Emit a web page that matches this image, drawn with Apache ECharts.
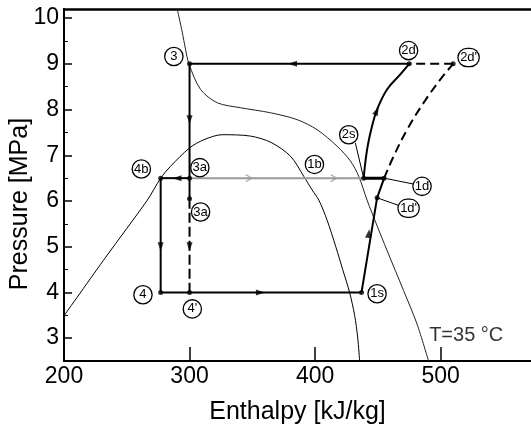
<!DOCTYPE html>
<html>
<head>
<meta charset="utf-8">
<script src="https://cdn.jsdelivr.net/npm/echarts@6/dist/echarts.min.js"></script>
<style>html,body{margin:0;padding:0;background:#fff}#c{width:531px;height:427px}</style>
</head>
<body>
<div id="c"></div>
<script>
// ---- tick labels ----
const xTickLabels = [200, 300, 400, 500];
const xTickMarks = [300, 400, 500];
const yTickLabels = [3, 4, 5, 6, 7, 8, 9, 10];
const yMinorTicks = [3.5, 4.5, 5.5, 6.5, 7.5, 8.5, 9.5];

// ---- saturation dome (enthalpy kJ/kg, pressure MPa) ----
const domeCurve = [[200,3.49],[233.2,4.77],[266.4,6.02],[277,6.5],[284.9,6.76],[300,7.16],[311.4,7.34],[326,7.45],[348.6,7.42],[365,7.28],[380.4,6.98],[391,6.54],[397.7,6.24],[403,6.02],[409.6,5.58],[416.5,5.0],[422,4.5],[427.5,4.0],[431.5,3.5],[434,3.0],[435.5,2.5]];
// ---- isotherm T = 35 °C ----
const isothermCurve = [[290.2,10.2],[294.2,9.69],[296.8,9.32],[299.5,9.0],[308.8,8.44],[322,8.15],[340.6,8.04],[364.5,7.93],[385.7,7.78],[401.6,7.56],[417.5,7.2],[428,6.88],[434.8,6.54],[441.4,6.02],[449.5,5.45],[457.3,4.92],[470.5,4.04],[481.2,3.31],[490.4,2.5]];

// ---- cycle segments ----
const seg2d3 = [[475,9],[300,9]];
const seg3to3a = [[300,9],[300,6.5]];
const seg3ato4b = [[300,6.5],[277,6.5]];
const seg4bto4 = [[277,6.5],[277,4]];
const seg4to1s = [[277,4],[437,4]];
const seg3atoPt = [[300,6.5],[300,6.05]];
const segPtto4p = [[300,6.05],[300,4]];
const seg1sto1d = [[437,4],[449.4,6.07],[455,6.5]];
const seg2sto1d = [[438.7,6.5],[455,6.5]];
const seg3ato2s = [[300,6.5],[438.7,6.5]];
const curve2sto2d = [[438.7,6.5],[441.4,7.12],[445.4,7.64],[449.4,8.0],[457.3,8.44],[467.9,8.77],[475,9.0]];
const curve1dto2dp = [[455,6.5],[462.6,6.98],[473.3,7.56],[486.5,8.15],[499.8,8.66],[510,9.0]];
const seg2dpto2d = [[510,9],[475,9]];

// ---- state points (dots) ----
const statePoints = [[300,9],[475,9],[510,9],[438.7,6.5],[455,6.5],[449.4,6.07],[437,4],[277,4],[300,4],[277,6.5],[300,6.5],[300,6.05]];

// ---- arrows: [h, p, rotation] ----
const blackArrows = [[382,9,90],[300,7.78,180],[290,6.5,90],[277,5.0,180],[300,5.0,180],[356.5,4,-90],[442.7,5.29,-9],[449.2,7.97,-24]];
const greyArrows = [[347.2,6.5],[414.8,6.5]];

// ---- leader lines ----
const lead2s = [[432.1,7.27],[438.7,6.5]];
const lead1d = [[455,6.5],[478.5,6.37]];
const lead1dp = [[449.4,6.07],[468,5.89]];

// ---- circled labels: [h, p, text] ----
const circleLabels = [[287.5,9.16,'3'],[261.6,6.70,'4b'],[308.2,6.73,'3a'],[308.8,5.76,'3a'],[262.9,3.95,'4'],[302.2,3.64,"4'"],[449.4,3.97,'1s'],[474.5,9.29,'2d'],[522.3,9.14,"2d'"],[426.8,7.45,'2s'],[399.5,6.80,'1b'],[485.2,6.32,'1d'],[474.5,5.84,"1d'"]];
const noteLabel = [520.4,3.05,'T=35 °C'];

const FONT = 'Liberation Sans, Arial, sans-serif';
const X_MIN = 200, X_MAX = 572, Y_MIN = 2.5, Y_MAX = 10.2;

function lineSeries(data, opts) {
  opts = opts || {};
  return {
    type: 'line', data: data, symbol: 'none', silent: true, animation: false,
    smooth: opts.smooth || false, z: opts.z || 3,
    lineStyle: { color: opts.color || '#000', width: opts.width || 2, type: opts.type || 'solid' }
  };
}

const chart = echarts.init(document.getElementById('c'), null, { renderer: 'canvas' });
const series = [
  lineSeries(domeCurve, { width: 1, smooth: 0.3, z: 2 }),
  lineSeries(isothermCurve, { width: 1, smooth: 0.3, z: 2, color: '#222' }),
  lineSeries(seg3ato2s, { width: 2, color: '#9a9a9a', z: 2 }),
  lineSeries(seg2d3),
  lineSeries(seg3to3a),
  lineSeries(seg3ato4b),
  lineSeries(seg4bto4),
  lineSeries(seg4to1s),
  lineSeries(seg3atoPt),
  lineSeries(segPtto4p, { type: [10, 4] }),
  lineSeries(seg1sto1d),
  lineSeries(seg2sto1d, { width: 3 }),
  lineSeries(curve2sto2d, { smooth: 0.4 }),
  lineSeries(curve1dto2dp, { smooth: 0.4, type: [9, 5] }),
  lineSeries(seg2dpto2d, { type: [9, 5] }),
  lineSeries(lead2s, { width: 1 }),
  lineSeries(lead1d, { width: 1 }),
  lineSeries(lead1dp, { width: 1 }),
  {
    type: 'scatter', data: statePoints, symbol: 'circle', symbolSize: 5, z: 5,
    itemStyle: { color: '#000' }, silent: true, animation: false
  },
  {
    type: 'scatter', z: 6, silent: true, animation: false,
    data: blackArrows.map(a => ({ value: [a[0], a[1]], symbolRotate: a[2] })),
    symbol: 'triangle', symbolSize: [6, 9], itemStyle: { color: '#000' }
  },
  {
    type: 'scatter', z: 6, silent: true, animation: false,
    data: greyArrows.map(a => ({ value: [a[0], a[1]] })),
    symbol: 'path://M0,0 L10,5 L0,10', symbolSize: [6, 7],
    itemStyle: { color: 'none', borderColor: '#999', borderWidth: 1.2 }
  },
  {
    type: 'scatter', z: 7, silent: true, animation: false, symbolSize: 0,
    data: circleLabels.map(l => ({ value: [l[0], l[1]], name: l[2],
      label: { width: l[2].length > 2 ? 20 : 17 } })),
    label: {
      show: true, position: 'inside', formatter: p => p.name,
      fontFamily: FONT, fontSize: 13, color: '#000', opacity: 1,
      backgroundColor: '#fff', borderColor: '#000', borderWidth: 1.3,
      borderRadius: 9, height: 17, lineHeight: 17, align: 'center', verticalAlign: 'middle', padding: 0
    }
  },
  {
    type: 'scatter', z: 7, silent: true, animation: false, symbolSize: 0,
    data: [{ value: [noteLabel[0], noteLabel[1]], name: noteLabel[2] }],
    label: { show: true, position: 'inside', formatter: p => p.name, fontFamily: FONT, fontSize: 20, color: '#000' }
  }
];

chart.setOption({
  animation: false,
  backgroundColor: '#fff',
  grid: { left: 64, right: 0, top: 9, bottom: 66, containLabel: false, outerBoundsMode: 'none' },
  xAxis: [
    {
      type: 'value', min: X_MIN, max: X_MAX, position: 'bottom',
      name: 'Enthalpy [kJ/kg]', nameLocation: 'middle', nameGap: 39, nameMoveOverlap: false,
      nameTextStyle: { fontFamily: FONT, fontSize: 25, color: '#000' },
      axisLine: { show: true, onZero: false, lineStyle: { color: '#000', width: 2 } },
      axisTick: { show: true, inside: true, length: 14, customValues: xTickMarks, lineStyle: { color: '#000', width: 1.5 } },
      axisLabel: { show: true, customValues: xTickLabels, margin: 4, fontFamily: FONT, fontSize: 23, color: '#000' },
      splitLine: { show: false }
    },
    {
      type: 'value', min: X_MIN, max: X_MAX, position: 'top',
      axisLine: { show: true, onZero: false, lineStyle: { color: '#000', width: 2.5 } },
      axisTick: { show: false }, axisLabel: { show: false }, splitLine: { show: false }
    }
  ],
  yAxis: [
    {
      type: 'value', min: Y_MIN, max: Y_MAX, position: 'left',
      name: 'Pressure [MPa]', nameLocation: 'middle', nameGap: 31, nameMoveOverlap: false,
      nameTextStyle: { fontFamily: FONT, fontSize: 25, color: '#000', padding: [0, 38, 0, 0] },
      axisLine: { show: true, onZero: false, lineStyle: { color: '#000', width: 2 } },
      axisTick: { show: true, inside: true, length: 8, customValues: yTickLabels, lineStyle: { color: '#000', width: 1.5 } },
      axisLabel: { show: true, customValues: yTickLabels, margin: 5, fontFamily: FONT, fontSize: 23, color: '#000' },
      splitLine: { show: false }
    },
    {
      type: 'value', min: Y_MIN, max: Y_MAX, position: 'left', offset: 0,
      axisLine: { show: true, onZero: false, lineStyle: { color: '#000', width: 2 } },
      axisTick: { show: true, inside: true, length: 4, customValues: yMinorTicks, lineStyle: { color: '#000', width: 1 } },
      axisLabel: { show: false }, splitLine: { show: false }
    }
  ],
  series: series
});
</script>
</body>
</html>
